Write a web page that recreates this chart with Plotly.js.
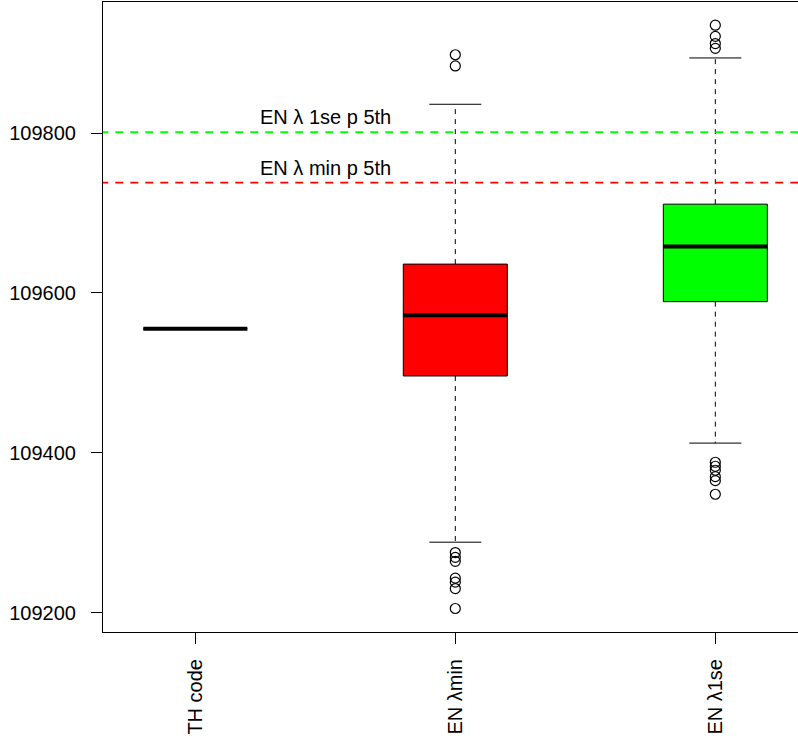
<!DOCTYPE html>
<html>
<head>
<meta charset="utf-8">
<script src="https://cdn.plot.ly/plotly-3.0.1.min.js"></script>
<style>
  html, body { margin: 0; padding: 0; overflow: hidden; background: #fff; }
  #chart { width: 798px; height: 740px; }
</style>
</head>
<body>
<div id="chart"></div>
<script>
// Groups along the x axis
const categories = ["TH code", "EN \u03bbmin", "EN \u03bb1se"];

// Box statistics per group
const lowerWhisker = [109555, 109288, 109412];
const q1 = [109555, 109496, 109589];
const median = [109555, 109572, 109658];
const q3 = [109555, 109636, 109711];
const upperWhisker = [109555, 109836, 109894];

// Points beyond the whiskers
const outliersTH = [];
const outliersMin = [109898, 109884, 109275, 109269, 109264, 109243, 109238, 109230, 109205];
const outliers1se = [109935, 109921, 109912, 109906, 109388, 109383, 109378, 109370, 109365, 109348];

// Horizontal reference levels
const refLabels = ["EN \u03bb 1se p 5th", "EN \u03bb min p 5th"];
const refValues = [109801, 109738];

const fills = ["rgba(0,0,0,0)", "#ff0000", "#00ff00"];
const refColors = ["#00ff00", "#ff0000"];
const outlierSets = [outliersTH, outliersMin, outliers1se];
const halfBox = 0.2, halfCap = 0.1;

const traces = [];

// Whiskers (dashed) drawn first so the boxes sit on top
const wx = [], wy = [];
categories.forEach((c, i) => {
  const p = i + 1;
  if (upperWhisker[i] === lowerWhisker[i]) return;
  wx.push(p, p, null, p, p, null);
  wy.push(q3[i], upperWhisker[i], null, q1[i], lowerWhisker[i], null);
});
traces.push({x: wx, y: wy, mode: "lines", type: "scatter", hoverinfo: "skip",
  line: {color: "#000", width: 1, dash: "5px,5px"}});

// Whisker caps
const cx = [], cy = [];
categories.forEach((c, i) => {
  const p = i + 1;
  if (upperWhisker[i] === lowerWhisker[i]) return;
  cx.push(p - halfCap, p + halfCap, null, p - halfCap, p + halfCap, null);
  cy.push(upperWhisker[i], upperWhisker[i], null, lowerWhisker[i], lowerWhisker[i], null);
});
traces.push({x: cx, y: cy, mode: "lines", type: "scatter", hoverinfo: "skip",
  line: {color: "#000", width: 1}});

// Boxes
categories.forEach((c, i) => {
  const p = i + 1;
  traces.push({
    x: [p - halfBox, p + halfBox, p + halfBox, p - halfBox, p - halfBox],
    y: [q1[i], q1[i], q3[i], q3[i], q1[i]],
    mode: "lines", type: "scatter", fill: "toself", fillcolor: fills[i],
    line: {color: "#000", width: 1}, hoverinfo: "skip"
  });
});

// Medians
const mx = [], my = [];
categories.forEach((c, i) => {
  const p = i + 1;
  mx.push(p - halfBox, p + halfBox, null);
  my.push(median[i], median[i], null);
});
traces.push({x: mx, y: my, mode: "lines", type: "scatter", hoverinfo: "skip",
  line: {color: "#000", width: 4}});

// Outliers as open circles
outlierSets.forEach((set, i) => {
  if (!set.length) return;
  traces.push({
    x: set.map(() => i + 1), y: set, mode: "markers", type: "scatter",
    marker: {symbol: "circle-open", size: 10, color: "#000", line: {width: 1.2}}
  });
});

// Reference lines across the full width
refValues.forEach((v, i) => {
  traces.push({x: [0, 4], y: [v, v], mode: "lines", type: "scatter", hoverinfo: "skip",
    line: {color: refColors[i], width: 1.8, dash: "8px,7px"}});
});

const font = {family: "Liberation Sans, Arial, sans-serif", size: 20, color: "#000"};

const annotations = refValues.map((v, i) => ({
  x: 1.5, y: v, xref: "x", yref: "y", text: refLabels[i], showarrow: false,
  xanchor: "center", yanchor: "bottom", yshift: 2, font: font
}));

// The plotting region runs off the right edge of the page, so there is
// no right-hand frame line; only the left, bottom and top lines are drawn.
const layout = {
  width: 798, height: 740,
  margin: {l: 103, r: 0, t: 2, b: 108},
  paper_bgcolor: "#fff", plot_bgcolor: "#fff",
  showlegend: false, font: font, annotations: annotations,
  xaxis: {
    range: [0.645, 3.318], tickvals: [1, 2, 3], ticktext: categories,
    tickangle: -90, ticks: "outside", ticklen: 11, tickcolor: "#000",
    ticklabelstandoff: 7,
    showline: true, mirror: true, linecolor: "#000", linewidth: 1,
    showgrid: false, zeroline: false, tickfont: font
  },
  yaxis: {
    range: [109175.6, 109964], tickvals: [109200, 109400, 109600, 109800],
    tickformat: "d", ticks: "outside", ticklen: 11, tickcolor: "#000",
    ticklabelstandoff: 11,
    showline: true, mirror: false, linecolor: "#000", linewidth: 1,
    showgrid: false, zeroline: false, tickfont: font
  }
};

Plotly.newPlot("chart", traces, layout, {staticPlot: true, displayModeBar: false});
</script>
</body>
</html>
